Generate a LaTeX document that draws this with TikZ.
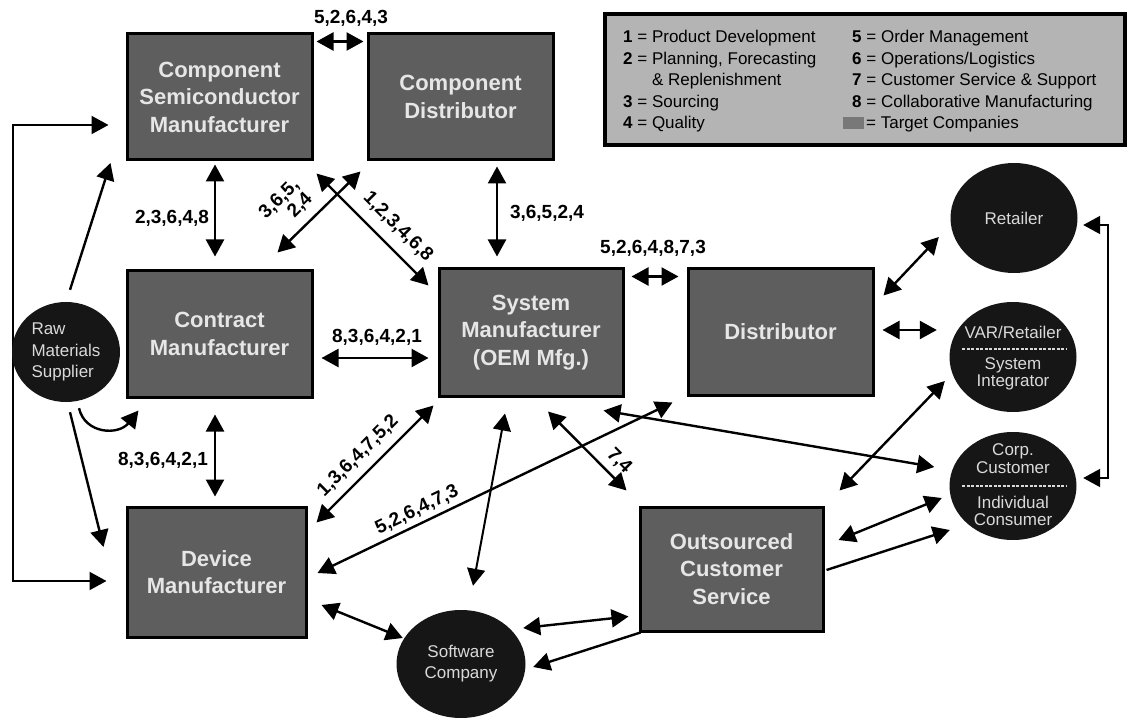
\documentclass[tikz,border=0pt]{standalone}
\usepackage{fontspec}
\setmainfont{Liberation Sans}
\usetikzlibrary{arrows.meta,shapes.geometric,calc}
\definecolor{boxfill}{HTML}{5E5E5E}
\definecolor{boxtext}{HTML}{E6E6E6}
\definecolor{orbfill}{HTML}{161616}
\definecolor{orbtext}{HTML}{D9D9D9}
\definecolor{legendfill}{HTML}{B4B4B4}
\begin{document}
\begin{tikzpicture}[x=1pt,y=-1pt,
  firm/.style={draw=black, line width=3pt, fill=boxfill, text=boxtext,
    font=\fontsize{22}{27.5}\selectfont\bfseries, align=center, inner sep=0pt},
  orb/.style={ellipse, fill=orbfill, draw=none, text=orbtext,
    font=\fontsize{17}{21}\selectfont, align=center, inner sep=0pt},
  orbtxt/.style={text=orbtext, align=center, inner sep=0pt},
  flow/.style={line width=2.4pt, {Triangle[length=17pt,width=18pt]}-{Triangle[length=17pt,width=18pt]}},
  feed/.style={line width=2.4pt, -{Triangle[length=17pt,width=18pt]}},
  code/.style={font=\fontsize{19}{19}\selectfont\bfseries, inner sep=0pt},
  legtext/.style={anchor=base west, font=\fontsize{17}{20}\selectfont, inner sep=0pt},
  divider/.style={draw=orbtext, line width=1.3pt, dash pattern=on 3pt off 1.5pt}
]
\fill[white] (0,0) rectangle (1135,719);
\useasboundingbox (0,0) rectangle (1135,719);

% ---- firms (boxes)
\node[firm, minimum width=185pt, minimum height=126pt] (csm) at (219.5,97) {Component\\Semiconductor\\Manufacturer};
\node[firm, minimum width=185pt, minimum height=126pt] (cd) at (460.5,97) {Component\\Distributor};
\node[firm, minimum width=185pt, minimum height=126pt] (cm) at (219.5,334) {Contract\\Manufacturer};
\node[firm, minimum width=179pt, minimum height=130pt] (dm) at (216.5,572) {Device\\Manufacturer};
\node[firm, minimum width=184pt, minimum height=127pt] (sm) at (531,332.5) {System\\Manufacturer\\(OEM Mfg.)};
\node[firm, minimum width=185pt, minimum height=126pt] (dist) at (780.5,332) {Distributor};
\node[firm, minimum width=183pt, minimum height=124pt] (ocs) at (731.5,569) {Outsourced\\Customer\\Service};

% ---- customers and other parties (ovals)
\node[orb, minimum width=127pt, minimum height=110pt] (retail) at (1014,218) {Retailer};
\node[orb, minimum width=127pt, minimum height=110pt] (var) at (1013,357) {};
\node[orb, minimum width=127pt, minimum height=108pt] (corp) at (1013,486) {};
\node[orb, minimum width=129pt, minimum height=108pt] (soft) at (461,664) {Software\\Company};

\node[orbtxt, font=\fontsize{17}{17}\selectfont] (varA) at (1013,332) {VAR/Retailer};
\node[orbtxt, font=\fontsize{17}{16.5}\selectfont] (varB) at (1013,374) {System\\Integrator};
\draw[divider] ($(var.center)+(-51,-8)$) -- ($(var.center)+(54,-8)$);
\node[orbtxt, font=\fontsize{17}{18}\selectfont] (corpA) at (1013,459) {Corp.\\Customer};
\node[orbtxt, font=\fontsize{17}{17}\selectfont] (corpB) at (1013,510.5) {Individual\\Consumer};
\draw[divider] ($(corp.center)+(-51,0)$) -- ($(corp.center)+(54,0)$);

% ---- supply trunk on the far left (runs behind the supplier oval)
\coordinate (trunk) at (13,352);
\draw[flow, line width=2pt] ($(csm.west)+(-17,28)$) -| (trunk) |- ($(dm.west)+(-19,9)$);
\node[orb, minimum width=108pt, minimum height=100pt, align=left,
  font=\fontsize{17}{21.5}\selectfont] (raw) at (66,352) {Raw\\Materials\\Supplier};

% ---- raw material feeds
\draw[feed] ($(raw.north)+(4,-12)$) -- ($(csm.west)+(-15,66)$);
\draw[feed] ($(raw.south)+(13,6)$) .. controls +(6,26) and +(-20,25) .. ($(cm.south west)+(13,12)$);
\draw[feed] ($(raw.south)+(4,10)$) -- ($(dm.west)+(-22,-25)$);

% ---- two-way flows between firms
\draw[flow] ($(csm.north east)+(3,9)$) -- ($(cd.north west)+(-3,9)$);
\draw[flow] ($(csm.south)+(-4.5,3)$) -- ($(cm.north)+(-4.5,-13)$);
\draw[flow] ($(cm.south)+(-4.5,16)$) -- ($(dm.north)+(-1.5,-9)$);
\draw[flow] ($(cm.east)+(8,24)$) -- ($(sm.west)+(-9,25.5)$);
\draw[flow] ($(cd.south)+(36.5,5)$) -- ($(sm.north)+(-34,-11)$);
\draw[flow] ($(sm.north east)+(7,9)$) -- ($(dist.north west)+(-8,9)$);
\draw[flow] ($(csm.south east)+(3,12)$) -- ($(sm.north west)+(-9,18)$);
\draw[flow] ($(cd.south west)+(-6,10)$) -- ($(cm.north east)+(-36,-17)$);
\draw[flow] ($(sm.south west)+(-4,8)$) -- ($(dm.north east)+(9,17)$);
\draw[flow] ($(dist.south west)+(-14,6)$) -- ($(dm.east)+(10,1)$);
\draw[flow, line width=2pt] ($(sm.south)+(-26,16)$) -- ($(soft.north)+(12,-24)$);
\draw[flow] ($(sm.south)+(17,14)$) -- ($(ocs.north west)+(-12,-15)$);
\draw[flow] ($(sm.south east)+(-21,13)$) -- ($(corp.west)+(-15,-19)$);
\draw[flow] ($(ocs.north east)+(15,-15)$) -- ($(var.west)+(-4.5,24)$);
\draw[flow] ($(ocs.east)+(14,-29)$) -- ($(corp.west)+(-7.5,12)$);
\draw[feed] ($(ocs.east)+(2,1)$) -- ($(corp.west)+(0.5,44)$);
\draw[flow] ($(dist.north east)+(9,28)$) -- ($(retail.west)+(-11.5,19)$);
\draw[flow] ($(dist.east)+(8,-2)$) -- ($(var.west)+(-12.5,-27)$);
\draw[flow, line width=2pt] ($(retail.east)+(5.5,7)$) -- ++(25,0) |- ($(corp.east)+(6.5,-8)$);
\draw[flow] ($(dm.east)+(14,33)$) -- ($(soft.west)+(6.5,-26)$);
\draw[flow] ($(soft.east)+(-2.5,-36)$) -- ($(ocs.south west)+(-10,-16)$);
\draw[feed] ($(ocs.south west)+(2,0)$) -- ($(soft.east)+(7.5,3)$);

% ---- process codes on the flows
\node[code] (l1) at (351,18) {5,2,6,4,3};
\node[code] (l2) at (172,218) {2,3,6,4,8};
\node[code] (l3) at (163,460) {8,3,6,4,2,1};
\node[code] (l4) at (377,337) {8,3,6,4,2,1};
\node[code] (l5) at (547,213) {3,6,5,2,4};
\node[code] (l6) at (653,248) {5,2,6,4,8,7,3};
\node[code, rotate=-45] (l7) at (398,227) {1,2,3,4,6,8};
\node[code, rotate=45, align=right] (l8) at (286,206) {3,6,5,\\2,4};
\node[code, rotate=45] (l9) at (358,456) {1,3,6,4,7,5,2};
\node[code, rotate=25.7] (l10) at (417,510) {5,2,6,4,7,3};
\node[code, rotate=-45] (l11) at (619,461) {7,4};

% ---- legend
\node[draw=black, line width=3.5pt, fill=legendfill, minimum width=520pt,
  minimum height=131pt, inner sep=0pt] (legend) at (865,79.5) {};
\node[legtext] (leg1) at (623,43) {\textbf{1} = Product Development};
\node[legtext] (leg2) at (623,64.5) {\textbf{2} = Planning, Forecasting};
\node[legtext] (leg2b) at (623,86) {\phantom{\textbf{2} = }\& Replenishment};
\node[legtext] (leg3) at (623,107.5) {\textbf{3} = Sourcing};
\node[legtext] (leg4) at (623,129) {\textbf{4} = Quality};
\node[legtext] (leg5) at (852,43) {\textbf{5} = Order Management};
\node[legtext] (leg6) at (852,64.5) {\textbf{6} = Operations/Logistics};
\node[legtext] (leg7) at (852,86) {\textbf{7} = Customer Service \& Support};
\node[legtext] (leg8) at (852,107.5) {\textbf{8} = Collaborative Manufacturing};
\node[fill=boxfill!70!legendfill, minimum width=21pt, minimum height=12pt, inner sep=0pt] (swatch) at (853,123) {};
\node[legtext] (leg9) at (866,129) {= Target Companies};
\end{tikzpicture}
\end{document}
